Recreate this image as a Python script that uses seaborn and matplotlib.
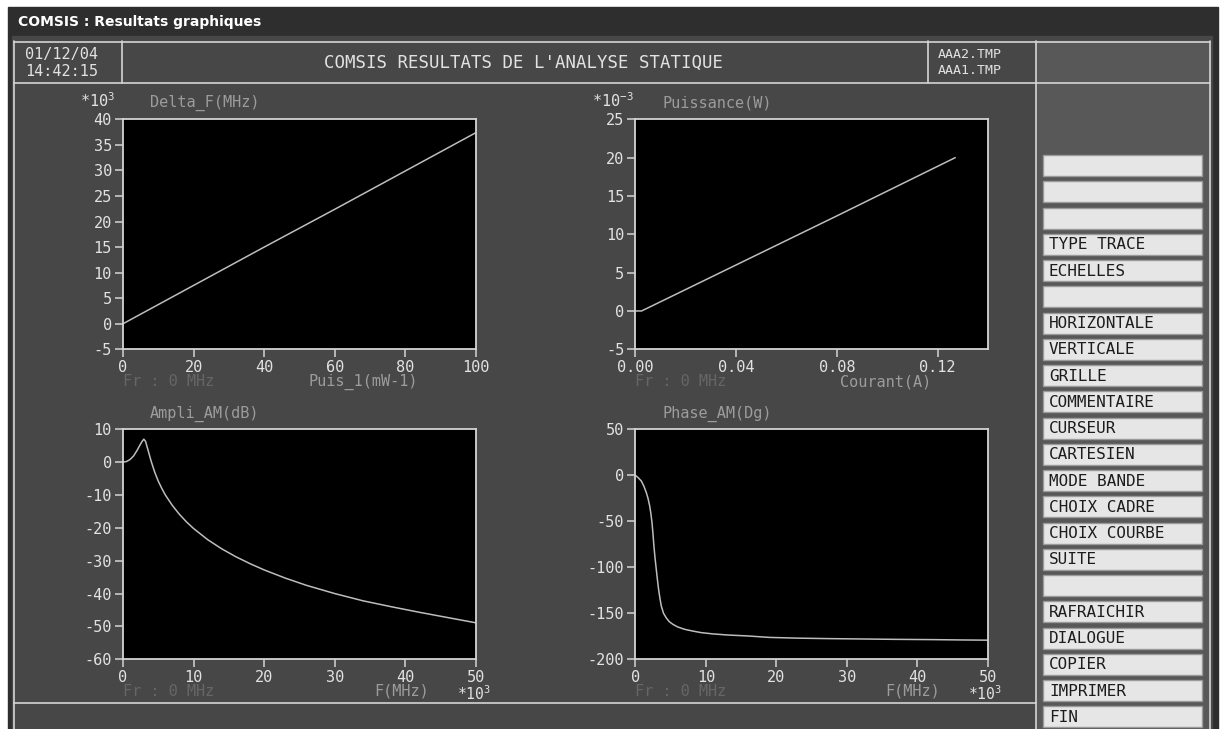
import numpy as np
import pandas as pd
import seaborn as sns
import matplotlib.pyplot as plt
from matplotlib.patches import Rectangle

W, H = 1221, 729

# ---- values ----
puis_x = [0, 20, 40, 60, 80, 100]
delta_f = [0.0, 7.5, 15.0, 22.4, 29.9, 37.4]

courant = [0.0, 0.0025, 0.04, 0.08, 0.127]
puissance = [0.0, 0.0, 6.0, 12.4, 20.0]

freq_a = [0, 0.5, 1.0, 1.5, 2.0, 2.4, 2.7, 2.95, 3.2, 3.5, 4.0, 4.5, 5.0, 5.5, 6.0,
          7.0, 8.0, 9.0, 10, 12, 14, 16, 18, 20, 23, 26, 30, 34, 38, 42, 46, 50]
ampli = [0, 0.2, 0.8, 1.9, 3.6, 5.2, 6.3, 7.0, 6.3, 4.0, 0.2, -3.1, -5.8, -8.0, -10.0,
         -13.2, -15.9, -18.2, -20.2, -23.6, -26.4, -28.8, -30.9, -32.8, -35.3, -37.5,
         -40.0, -42.2, -44.0, -45.7, -47.3, -48.9]

freq_p = [0, 0.4, 0.85, 1.2, 1.56, 1.8, 2.03, 2.2, 2.36, 2.5, 2.64, 2.8, 2.97, 3.13,
          3.3, 3.5, 3.68, 4.0, 4.39, 4.8, 5.33, 6.0, 6.98, 8.2, 9.34, 11.0, 13.1,
          15.9, 19.0, 23.0, 27.2, 32.0, 36.6, 42.0, 46.6, 50.0]
phase = [0, -2.5, -6.2, -11.5, -18.8, -25, -33, -41, -51, -63, -77, -90, -102, -113,
         -124, -134, -142, -150, -155, -159, -162, -164.8, -167.4, -169.4, -171, -172.4,
         -173.6, -174.6, -176.2, -177, -177.5, -177.9, -178.3, -178.6, -179, -179.2]

buttons = ["", "", "", "TYPE TRACE", "ECHELLES", "", "HORIZONTALE", "VERTICALE",
           "GRILLE", "COMMENTAIRE", "CURSEUR", "CARTESIEN", "MODE BANDE",
           "CHOIX CADRE", "CHOIX COURBE", "SUITE", "", "RAFRAICHIR", "DIALOGUE",
           "COPIER", "IMPRIMER", "FIN"]

sns.set_style("dark")
plt.rcParams['font.family'] = ['DejaVu Sans Mono']
plt.rcParams['mathtext.default'] = 'regular'

BG = '#474747'
PANEL = '#585858'
LINE = '#d4d4d4'
TICK = '#e2e2e2'
LABEL = '#9c9c9c'
DIM = '#666666'
CURVE = '#bdbdbd'

fig = plt.figure(figsize=(W / 100, H / 100), dpi=100, facecolor='white')

# background "window" drawn in pixel coordinates
bg = fig.add_axes([0, 0, 1, 1])
bg.set_xlim(0, W)
bg.set_ylim(H, 0)
bg.axis('off')

bg.add_patch(Rectangle((8, 7), 1210, 722, color='#2e2e2e'))
grad = np.linspace(0, 1, 30).reshape(-1, 1)
bg.imshow(grad, cmap=sns.blend_palette(['#5e5e5e', '#3a3a3a', '#2c2c2c'], as_cmap=True),
          extent=[8, 1218, 36, 7], aspect='auto')
bg.add_patch(Rectangle((12, 36), 1200, 693, color=BG))
bg.add_patch(Rectangle((1036, 41), 174, 688, color=PANEL))
bg.text(18, 22, "COMSIS : Resultats graphiques", color='white', fontsize=10,
        fontweight='bold', family='DejaVu Sans', va='center')

segs = [((14, 1210), (41.5, 41.5)), ((14, 1210), (82.5, 82.5)), ((14, 14), (41, 729)),
        ((122, 122), (41, 83)), ((928, 928), (41, 83)), ((1036, 1036), (41, 729)),
        ((1210, 1210), (41, 729)), ((14, 1036), (703, 703))]
for xs, ys in segs:
    bg.plot(xs, ys, color=LINE, lw=1.2)

bg.text(25, 54, "01/12/04", color=TICK, fontsize=11, va='center')
bg.text(25, 71, "14:42:15", color=TICK, fontsize=11, va='center')
bg.text(524, 63, "COMSIS RESULTATS DE L'ANALYSE STATIQUE", color=TICK, fontsize=12.5,
        ha='center', va='center')
bg.text(938, 54, "AAA2.TMP", color=TICK, fontsize=9.5, va='center')
bg.text(938, 70, "AAA1.TMP", color=TICK, fontsize=9.5, va='center')

for i, name in enumerate(buttons):
    yc = 165.5 + i * 26.26
    bg.add_patch(Rectangle((1043, yc - 10.5), 159, 21, facecolor='#e6e6e6',
                           edgecolor='#9a9a9a', lw=1))
    bg.text(1049, yc + 0.5, name, color='#1c1c1c', fontsize=11.5, va='center')


def px_axes(x0, x1, ytop, ybot):
    return fig.add_axes([x0 / W, 1 - ybot / H, (x1 - x0) / W, (ybot - ytop) / H])


def style(ax, xlim, ylim, xt, xtl, yt, ytl):
    ax.set_facecolor('black')
    ax.set_xlim(*xlim)
    ax.set_ylim(*ylim)
    ax.set_xticks(xt)
    ax.set_xticklabels(xtl)
    ax.set_yticks(yt)
    ax.set_yticklabels(ytl)
    ax.grid(False)
    for s in ax.spines.values():
        s.set_visible(True)
        s.set_color(LINE)
        s.set_linewidth(1.3)
    ax.tick_params(direction='out', length=5.5, width=1.1, color=LINE,
                   labelcolor=TICK, labelsize=11, pad=2.5,
                   bottom=True, left=True)
    ax.set_xlabel('')
    ax.set_ylabel('')


def fmt(vals, f="{:d}"):
    return [f.format(v) for v in vals]


# top-left: Delta_F vs Puis_1
ax1 = px_axes(123, 476, 119.3, 349.3)
sns.lineplot(x=puis_x, y=delta_f, ax=ax1, color=CURVE, lw=1.1, estimator=None)
yt = list(range(-5, 41, 5))
style(ax1, (0, 100), (-5, 40), [0, 20, 40, 60, 80, 100], fmt([0, 20, 40, 60, 80, 100]),
      yt, fmt(yt))

# top-right: Puissance vs Courant
ax2 = px_axes(635.3, 988, 119.3, 349.3)
sns.lineplot(x=courant, y=puissance, ax=ax2, color=CURVE, lw=1.1, estimator=None)
yt = list(range(-5, 26, 5))
xt = [0, 0.04, 0.08, 0.12]
style(ax2, (0, 0.14), (-5, 25), xt, ["%.2f" % v for v in xt], yt, fmt(yt))

# bottom-left: Ampli_AM vs F
ax3 = px_axes(123, 476, 429.3, 659.3)
sns.lineplot(x=freq_a, y=ampli, ax=ax3, color=CURVE, lw=1.1, estimator=None, sort=False)
yt = list(range(-60, 11, 10))
xt = list(range(0, 51, 10))
style(ax3, (0, 50), (-60, 10), xt, fmt(xt), yt, fmt(yt))

# bottom-right: Phase_AM vs F
ax4 = px_axes(635.3, 988, 429.3, 659.3)
sns.lineplot(x=freq_p, y=phase, ax=ax4, color=CURVE, lw=1.1, estimator=None, sort=False)
yt = list(range(-200, 51, 50))
style(ax4, (0, 50), (-200, 50), xt, fmt(xt), yt, fmt(yt))

# labels around the frames
bg.text(80, 101, r"*10$^{3}$", color=TICK, fontsize=11, va='center')
bg.text(150, 102.5, "Delta_F(MHz)", color=LABEL, fontsize=11, va='center')
bg.text(123, 381.5, "Fr : 0 MHz", color=DIM, fontsize=11, va='center')
bg.text(308, 381.5, "Puis_1(mW-1)", color=LABEL, fontsize=11, va='center')

bg.text(592, 101, r"*10$^{-3}$", color=TICK, fontsize=11, va='center')
bg.text(662, 102.5, "Puissance(W)", color=LABEL, fontsize=11, va='center')
bg.text(635, 381.5, "Fr : 0 MHz", color=DIM, fontsize=11, va='center')
bg.text(840, 381.5, "Courant(A)", color=LABEL, fontsize=11, va='center')

bg.text(150, 413.5, "Ampli_AM(dB)", color=LABEL, fontsize=11, va='center')
bg.text(123, 691.5, "Fr : 0 MHz", color=DIM, fontsize=11, va='center')
bg.text(374, 691.5, "F(MHz)", color=LABEL, fontsize=11, va='center')
bg.text(457, 694, r"*10$^{3}$", color=TICK, fontsize=10.5, va='center')

bg.text(662, 413.5, "Phase_AM(Dg)", color=LABEL, fontsize=11, va='center')
bg.text(635, 691.5, "Fr : 0 MHz", color=DIM, fontsize=11, va='center')
bg.text(885, 691.5, "F(MHz)", color=LABEL, fontsize=11, va='center')
bg.text(968, 694, r"*10$^{3}$", color=TICK, fontsize=10.5, va='center')

fig.savefig("out.png", dpi=100, facecolor='white')
